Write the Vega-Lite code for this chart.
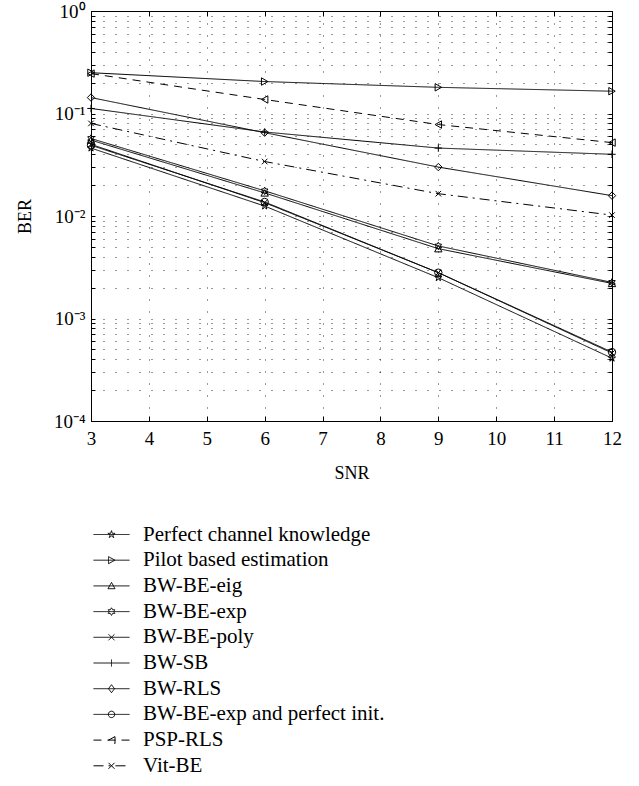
{
  "$schema": "https://vega.github.io/schema/vega-lite/v6.json",
  "width": 521,
  "height": 410,
  "autosize": {"type": "none"},
  "padding": {"left": 91, "top": 11, "right": 27, "bottom": 365},
  "background": "white",
  "config": {
    "view": {"stroke": "black", "strokeWidth": 1},
    "font": "Liberation Serif",
    "axis": {"domainColor": "black", "tickColor": "black", "labelColor": "black", "titleColor": "black", "labelFont": "Liberation Serif", "titleFont": "Liberation Serif", "titleFontWeight": "normal"}
  },
  "data": {
    "values": [
      {"snr": 3, "ber": 0.046, "series": "Perfect channel knowledge"},
      {"snr": 6, "ber": 0.0125, "series": "Perfect channel knowledge"},
      {"snr": 9, "ber": 0.0025, "series": "Perfect channel knowledge"},
      {"snr": 12, "ber": 0.00041, "series": "Perfect channel knowledge"},
      {"snr": 3, "ber": 0.25, "series": "Pilot based estimation"},
      {"snr": 6, "ber": 0.205, "series": "Pilot based estimation"},
      {"snr": 9, "ber": 0.18, "series": "Pilot based estimation"},
      {"snr": 12, "ber": 0.165, "series": "Pilot based estimation"},
      {"snr": 3, "ber": 0.055, "series": "BW-BE-eig"},
      {"snr": 6, "ber": 0.0168, "series": "BW-BE-eig"},
      {"snr": 9, "ber": 0.0048, "series": "BW-BE-eig"},
      {"snr": 12, "ber": 0.0022, "series": "BW-BE-eig"},
      {"snr": 3, "ber": 0.057, "series": "BW-BE-exp"},
      {"snr": 6, "ber": 0.0176, "series": "BW-BE-exp"},
      {"snr": 9, "ber": 0.0051, "series": "BW-BE-exp"},
      {"snr": 12, "ber": 0.00225, "series": "BW-BE-exp"},
      {"snr": 3, "ber": 0.05, "series": "BW-BE-poly"},
      {"snr": 6, "ber": 0.0135, "series": "BW-BE-poly"},
      {"snr": 9, "ber": 0.0028, "series": "BW-BE-poly"},
      {"snr": 12, "ber": 0.00046, "series": "BW-BE-poly"},
      {"snr": 3, "ber": 0.112, "series": "BW-SB"},
      {"snr": 6, "ber": 0.066, "series": "BW-SB"},
      {"snr": 9, "ber": 0.046, "series": "BW-SB"},
      {"snr": 12, "ber": 0.040, "series": "BW-SB"},
      {"snr": 3, "ber": 0.143, "series": "BW-RLS"},
      {"snr": 6, "ber": 0.065, "series": "BW-RLS"},
      {"snr": 9, "ber": 0.030, "series": "BW-RLS"},
      {"snr": 12, "ber": 0.0158, "series": "BW-RLS"},
      {"snr": 3, "ber": 0.049, "series": "BW-BE-exp and perfect init."},
      {"snr": 6, "ber": 0.0137, "series": "BW-BE-exp and perfect init."},
      {"snr": 9, "ber": 0.0028, "series": "BW-BE-exp and perfect init."},
      {"snr": 12, "ber": 0.00047, "series": "BW-BE-exp and perfect init."},
      {"snr": 3, "ber": 0.245, "series": "PSP-RLS"},
      {"snr": 6, "ber": 0.137, "series": "PSP-RLS"},
      {"snr": 9, "ber": 0.078, "series": "PSP-RLS"},
      {"snr": 12, "ber": 0.052, "series": "PSP-RLS"},
      {"snr": 3, "ber": 0.08, "series": "Vit-BE"},
      {"snr": 6, "ber": 0.034, "series": "Vit-BE"},
      {"snr": 9, "ber": 0.0165, "series": "Vit-BE"},
      {"snr": 12, "ber": 0.0102, "series": "Vit-BE"}
    ]
  },
  "resolve": {"axis": {"x": "independent", "y": "independent"}},
  "layer": [
    {
      "mark": {"type": "line", "color": "black", "strokeWidth": 1},
      "encoding": {
        "x": {"field": "snr", "type": "quantitative",
          "scale": {"domain": [3, 12], "nice": false, "zero": false},
          "axis": {"orient": "bottom", "values": [3,4,5,6,7,8,9,10,11,12], "format": "d", "title": "SNR", "titleFontSize": 18, "labelFontSize": 19, "tickSize": -5, "labelPadding": 13, "titlePadding": 16, "grid": true, "gridDash": [1, 11], "gridColor": "black", "gridOpacity": 0.8, "domain": false, "labelFlush": false}},
        "y": {"field": "ber", "type": "quantitative",
          "scale": {"type": "log", "domain": [0.0001, 1], "nice": false},
          "axis": {"orient": "left", "title": "BER", "titleFontSize": 18, "labelFontSize": 19, "tickSize": -4, "labelPadding": 10, "titlePadding": 19, "grid": true, "gridDash": [1, 11], "gridColor": "black", "gridOpacity": 0.8, "domain": false,
            "values": [0.0001,0.0002,0.0003,0.0004,0.0005,0.0006,0.0007,0.0008,0.0009,0.001,0.002,0.003,0.004,0.005,0.006,0.007,0.008,0.009,0.01,0.02,0.03,0.04,0.05,0.06,0.07,0.08,0.09,0.1,0.2,0.3,0.4,0.5,0.6,0.7,0.8,0.9,1],
            "labelExpr": "datum.value == 1 ? '10⁰' : datum.value == 0.1 ? '10⁻¹' : datum.value == 0.01 ? '10⁻²' : datum.value == 0.001 ? '10⁻³' : datum.value == 0.0001 ? '10⁻⁴' : ''"}},
        "detail": {"field": "series"},
        "strokeDash": {"field": "series", "type": "nominal",
          "scale": {"domain": ["Perfect channel knowledge","Pilot based estimation","BW-BE-eig","BW-BE-exp","BW-BE-poly","BW-SB","BW-RLS","BW-BE-exp and perfect init.","PSP-RLS","Vit-BE"],
            "range": [[1,0],[1,0],[1,0],[1,0],[1,0],[1,0],[1,0],[1,0],[8,6],[10,5,2,5]]},
          "legend": {
            "title": null, "orient": "none", "legendX": 10, "legendY": 513,
            "symbolSize": 400, "symbolStrokeWidth": 1, "symbolStrokeColor": "black", "symbolFillColor": "transparent",
            "labelFont": "Liberation Serif", "labelFontSize": 21, "labelColor": "black", "labelOffset": 21, "rowPadding": 3.7, "labelLimit": 400,
            "encode": {"symbols": {"update": {
              "stroke": {"value": "black"}, "fill": {"value": "transparent"}, "strokeWidth": {"value": 1},
              "shape": {"signal": "datum.value == 'Perfect channel knowledge' ? 'M-1.8,0H1.8M0,-0.38L0.085,-0.117L0.361,-0.117L0.137,0.044L0.223,0.307L0,0.144L-0.223,0.307L-0.137,0.044L-0.361,-0.117L-0.085,-0.117Z' : datum.value == 'Pilot based estimation' ? 'M-1.8,0H1.8M-0.3,-0.35L0.35,0L-0.3,0.35Z' : datum.value == 'BW-BE-eig' ? 'M-1.8,0H1.8M0,-0.35L0.35,0.28L-0.35,0.28Z' : datum.value == 'BW-BE-exp' ? 'M-1.8,0H1.8M0,-0.38L0.11,-0.19L0.329,-0.19L0.219,0L0.329,0.19L0.11,0.19L0,0.38L-0.11,0.19L-0.329,0.19L-0.219,0L-0.329,-0.19L-0.11,-0.19Z' : datum.value == 'BW-BE-poly' ? 'M-1.8,0H1.8M-0.3,-0.3L0.3,0.3M-0.3,0.3L0.3,-0.3' : datum.value == 'BW-SB' ? 'M-1.8,0H1.8M0,-0.35V0.35' : datum.value == 'BW-RLS' ? 'M-1.8,0H1.8M0,-0.4L0.3,0L0,0.4L-0.3,0Z' : datum.value == 'BW-BE-exp and perfect init.' ? 'M-1.8,0H1.8M-0.32,0a0.32,0.32 0 1,0 0.64,0a0.32,0.32 0 1,0 -0.64,0Z' : datum.value == 'PSP-RLS' ? 'M-1.8,0H1.8M0.35,-0.35L-0.3,0L0.35,0.35Z' : 'M-1.8,0H1.8M-0.3,-0.3L0.3,0.3M-0.3,0.3L0.3,-0.3'"}
            }}}
          }}
      }
    },
    {
      "mark": {"type": "point", "filled": false, "color": "black", "strokeWidth": 1, "size": 55, "opacity": 1},
      "encoding": {
        "x": {"field": "snr", "type": "quantitative",
          "axis": {"orient": "top", "values": [3,4,5,6,7,8,9,10,11,12], "labels": false, "title": null, "tickSize": -5, "grid": false, "domain": false}},
        "y": {"field": "ber", "type": "quantitative",
          "axis": {"orient": "right", "labels": false, "title": null, "tickSize": -4, "grid": false, "domain": false,
            "values": [0.0001,0.0002,0.0003,0.0004,0.0005,0.0006,0.0007,0.0008,0.0009,0.001,0.002,0.003,0.004,0.005,0.006,0.007,0.008,0.009,0.01,0.02,0.03,0.04,0.05,0.06,0.07,0.08,0.09,0.1,0.2,0.3,0.4,0.5,0.6,0.7,0.8,0.9,1]}},
        "shape": {"field": "series", "type": "nominal", "legend": null,
          "sort": ["Perfect channel knowledge","Pilot based estimation","BW-BE-eig","BW-BE-exp","BW-BE-poly","BW-SB","BW-RLS","BW-BE-exp and perfect init.","PSP-RLS","Vit-BE"],
          "scale": {
            "range": [
              "M0,-1L0.223,-0.307L0.951,-0.309L0.361,0.117L0.588,0.809L0,0.38L-0.588,0.809L-0.361,0.117L-0.951,-0.309L-0.223,-0.307Z",
              "triangle-right",
              "triangle-up",
              "M0,-1L0.289,-0.5L0.866,-0.5L0.577,0L0.866,0.5L0.289,0.5L0,1L-0.289,0.5L-0.866,0.5L-0.577,0L-0.866,-0.5L-0.289,-0.5Z",
              "M-0.75,-0.75L0.75,0.75M-0.75,0.75L0.75,-0.75",
              "M-1,0H1M0,-1V1",
              "diamond",
              "circle",
              "triangle-left",
              "M-0.75,-0.75L0.75,0.75M-0.75,0.75L0.75,-0.75"
            ]}
        }
      }
    }
  ]
}
